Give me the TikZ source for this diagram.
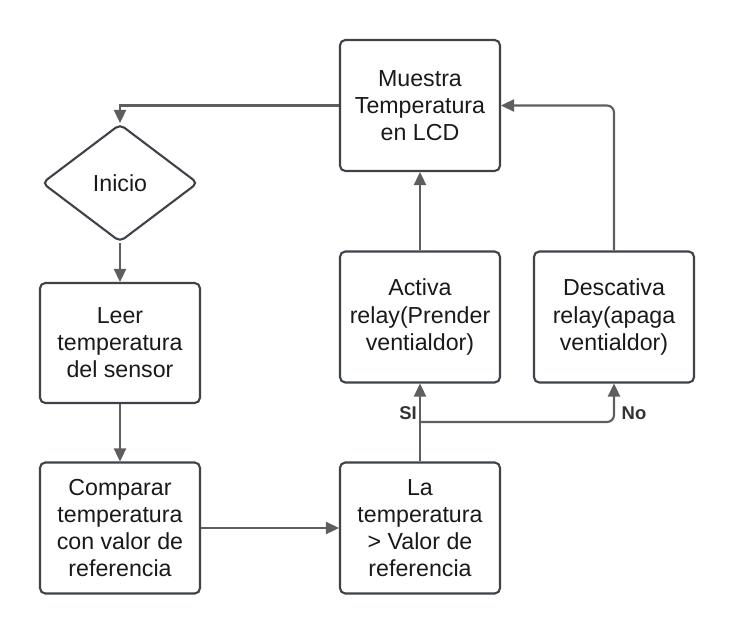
\documentclass[tikz,border=0pt]{standalone}
\usepackage{fontspec}
\setmainfont{Liberation Sans}
\usetikzlibrary{shapes.geometric}
\usetikzlibrary{arrows.meta}
\definecolor{boxline}{HTML}{3E4249}
\definecolor{flowline}{HTML}{5E5E5E}
\definecolor{labeltext}{HTML}{333333}
\tikzset{
  every node/.style={font=\fontsize{13.2}{15.4}\selectfont,text=black!90},
  flowbox/.style={draw=boxline,line width=1.2pt,rounded corners=3pt,align=center,
    minimum width=3.2cm,minimum height=2.62cm,inner sep=0pt},
  startdiamond/.style={draw=boxline,line width=1.2pt,diamond,rounded corners=3pt,
    minimum width=3.12cm,minimum height=2.36cm,inner sep=0pt},
  flow/.style={draw=flowline,line width=1.2pt,rounded corners=4pt,
    -{Triangle[length=7.5pt,width=7pt]}},
  answer/.style={font=\fontsize{10.5}{12}\selectfont\bfseries,text=labeltext}}

\begin{document}
\begin{tikzpicture}[x=0.02cm,y=-0.02cm]
  \useasboundingbox (0,0) rectangle (734,635);
  \node [flowbox] (muestra) at (420,105.5) {Muestra\\Temperatura\\en LCD};
  \node [startdiamond] (inicio) at (120,183) {Inicio};
  \node [flowbox,minimum height=2.4cm] (leer) at (120,343) {Leer\\temperatura\\del sensor};
  \node [flowbox] (comparar) at (120,528) {Comparar\\temperatura\\con valor de\\referencia};
  \node [flowbox] (latemp) at (420,528) {La\\temperatura\\> Valor de\\referencia};
  \node [flowbox] (activa) at (420,317) {Activa\\relay(Prender\\ventialdor)};
  \node [flowbox] (descativa) at (614,317) {Descativa\\relay(apaga\\ventialdor)};
  \coordinate (split) at (420,422);
  \draw [flow,rounded corners=0pt] (muestra.west) -| (inicio.north);
  \draw [flow] (inicio.south) -- (leer.north);
  \draw [flow] (leer.south) -- (comparar.north);
  \draw [flow] (comparar.east) -- (latemp.west);
  \draw [flow] (latemp.north) -- (activa.south);
  \draw [flow] (split) -| (descativa.south);
  \draw [flow] (activa.north) -- (muestra.south);
  \draw [flow] (descativa.north) |- (muestra.east);
  \node [answer] (si) at (408,413) {SI};
  \node [answer] (no) at (634,413) {No};
\end{tikzpicture}
\end{document}
